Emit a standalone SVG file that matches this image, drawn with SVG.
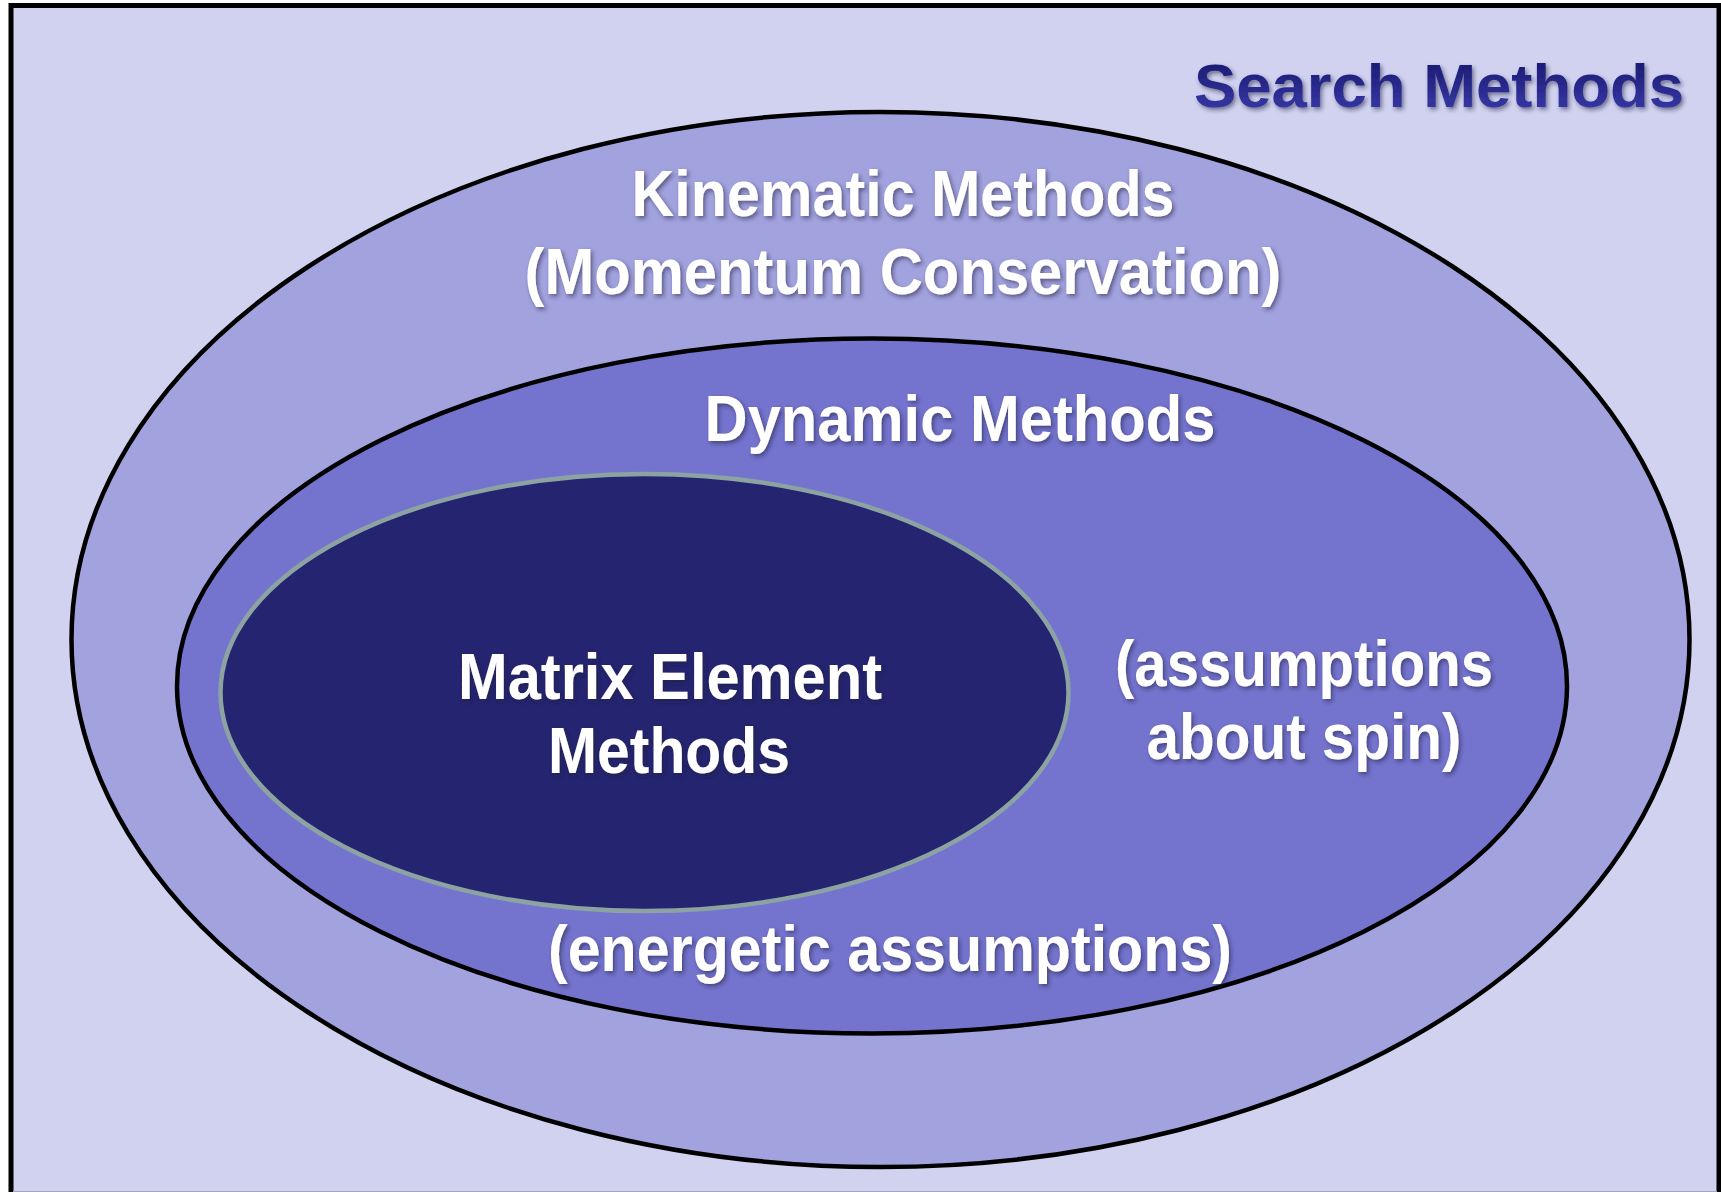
<svg xmlns="http://www.w3.org/2000/svg" width="1721" height="1192" viewBox="0 0 1721 1192">
  <defs>
    <filter id="shadow" x="-10%" y="-30%" width="120%" height="160%">
      <feDropShadow dx="2" dy="2.5" stdDeviation="2.2" flood-color="#1a1a40" flood-opacity="0.55"/>
    </filter>
    <linearGradient id="titleGrad" x1="0" y1="0" x2="0" y2="1">
      <stop offset="0" stop-color="#15156a"/>
      <stop offset="1" stop-color="#3c3cae"/>
    </linearGradient>
    <style>
      .lbl { font-family: "Liberation Sans", Arial, sans-serif; font-weight: bold; font-size: 64px; fill: #ffffff; text-anchor: middle; filter: url(#shadow); }
      .ring { stroke: #000000; stroke-width: 4.5; }
      .title { font-family: "Liberation Sans", Arial, sans-serif; font-weight: bold; font-size: 62px; fill: url(#titleGrad); filter: url(#shadow); }
    </style>
  </defs>

  <rect x="0" y="0" width="1721" height="1192" fill="#ffffff"/>
  <g id="search-methods">
    <rect x="11" y="5.5" width="1708" height="1200" fill="#d0d2ef" stroke="#000000" stroke-width="5"/>
    <line x1="13" y1="1191.5" x2="1717" y2="1191.5" stroke="#a4a6c0" stroke-width="1"/>
    <text class="title" x="1194" y="107" textLength="490" lengthAdjust="spacingAndGlyphs">Search Methods</text>
  </g>

  <g id="kinematic-methods">
    <ellipse class="ring" cx="880.5" cy="639.5" rx="809" ry="527.5" fill="#a2a2de"/>
    <text class="lbl" x="903" y="216" textLength="543" lengthAdjust="spacingAndGlyphs">Kinematic Methods</text>
    <text class="lbl" x="903" y="294" textLength="757" lengthAdjust="spacingAndGlyphs">(Momentum Conservation)</text>
  </g>

  <g id="dynamic-methods">
    <ellipse class="ring" cx="872" cy="686" rx="695" ry="347.5" fill="#7474ce"/>
    <text class="lbl" x="960" y="441" textLength="511" lengthAdjust="spacingAndGlyphs">Dynamic Methods</text>
    <text class="lbl" x="1304" y="686" textLength="378" lengthAdjust="spacingAndGlyphs">(assumptions</text>
    <text class="lbl" x="1304" y="759" textLength="315" lengthAdjust="spacingAndGlyphs">about spin)</text>
    <text class="lbl" x="890" y="971" textLength="684" lengthAdjust="spacingAndGlyphs">(energetic assumptions)</text>
  </g>

  <g id="matrix-element-methods">
    <ellipse cx="644.5" cy="692.5" rx="424" ry="218.5" fill="#252470" stroke="#8ca3a2" stroke-width="4.5"/>
    <text class="lbl" x="670" y="699" textLength="424" lengthAdjust="spacingAndGlyphs">Matrix Element</text>
    <text class="lbl" x="669" y="773" textLength="242" lengthAdjust="spacingAndGlyphs">Methods</text>
  </g>

  <g id="connectors"/>
</svg>
